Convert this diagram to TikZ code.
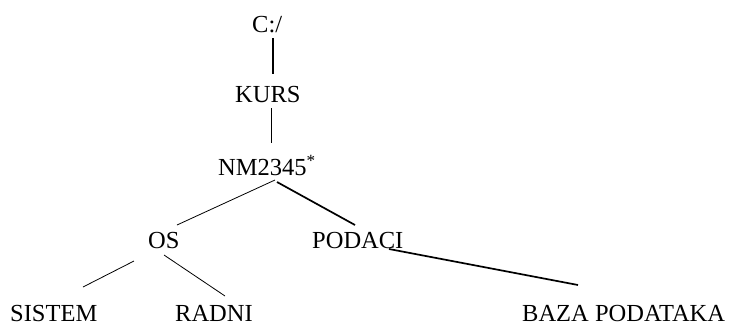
\documentclass[tikz,border=0pt]{standalone}
\usepackage{fontspec}
\setmainfont{Liberation Serif}
\usetikzlibrary{calc}

\tikzset{
  dir/.style={inner sep=0pt, anchor=base west, font=\fontsize{24.5bp}{28bp}\selectfont},
  thin link/.style={line width=0.8bp},
  thick link/.style={line width=1.7bp}
}

\begin{document}
\begin{tikzpicture}[x=1bp, y=-1bp]
  \useasboundingbox (0,0) rectangle (735,323);
  \node[dir] (root)   at (252,32)  {C:/}; %
  \node[dir] (kurs)   at (235,102) {KURS}; %
  \node[dir] (nm)     at (218,175) {NM2345\textsuperscript{*}}; %
  \node[dir] (os)     at (148,248) {OS}; %
  \node[dir] (podaci) at (312,248) {PODACI}; %
  \node[dir] (sistem) at (10,321)  {SISTEM}; %
  \node[dir] (radni)  at (175,321) {RADNI}; %
  \node[dir] (baza)   at (522,321) {BAZA PODATAKA}; %

  % links between folders
  \draw[thick link] ($(root.base west)+(20.7,6)$) -- ($(kurs.base west)+(37.7,-28)$);
  \draw[thin link]  ($(kurs.base west)+(36,6)$) -- ($(nm.base west)+(53,-32)$);
  \draw[thin link]  ($(nm.base west)+(57,5)$) -- ($(os.base west)+(29,-23)$);
  \draw[thick link] ($(nm.base west)+(59,7)$) -- ($(podaci.base west)+(43,-23)$);
  \draw[thin link]  ($(os.base west)+(-14,13)$) -- ($(sistem.base west)+(73,-34)$);
  \draw[thin link]  ($(os.base west)+(16,7)$) -- ($(radni.base west)+(50,-25)$);
  \draw[thick link] ($(podaci.base west)+(77,1)$) -- ($(baza.base west)+(56,-36)$);
\end{tikzpicture}
\end{document}
